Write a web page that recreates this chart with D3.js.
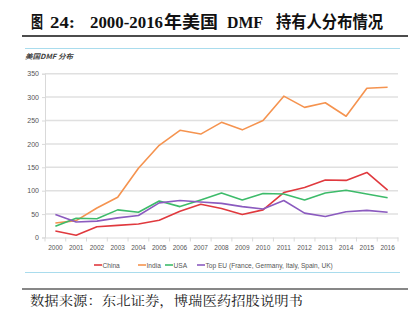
<!DOCTYPE html>
<html><head><meta charset="utf-8">
<script src="https://cdn.jsdelivr.net/npm/d3@7"></script>
<style>body{margin:0;background:#fff}svg{display:block}</style>
</head><body>
<script>
const years = ["2000","2001","2002","2003","2004","2005","2006","2007","2008","2009","2010","2011","2012","2013","2014","2015","2016"];
const china = [14,5,23,26,29,37,56,71,62,49,59,96,107,123,122,139,101];
const india = [31,36,63,86,148,197,229,221,246,230,250,302,278,288,259,319,321];
const usa   = [24,41,40,59,54,78,66,80,95,80,94,93,80,95,101,93,85];
const topEU = [49,33,35,42,47,74,79,76,73,66,61,79,52,45,55,58,54];
const yTicks = [0,50,100,150,200,250,300,350];
const seriesNames = ["China","India","USA","Top EU (France, Germany, Italy, Spain, UK)"];
const colors = ["#e0393e","#f5934f","#3dbb6a","#8b5bbf"];
const seriesData = [china, india, usa, topEU];

const W=419,H=326;
const svg=d3.select("body").append("svg").attr("width",W).attr("height",H);
const cjk="'Noto Sans CJK SC','Noto Sans',sans-serif";

// title segments
const titleParts=[
  {t:"图",x:31,w:12},
  {t:"24:",x:50,w:25},
  {t:"2000-2016",x:90,w:73},
  {t:"年美国",x:164,w:54},
  {t:"DMF",x:227,w:36},
  {t:"持有人分布情况",x:276,w:107}
];
svg.append("g").selectAll("text").data(titleParts).join("text")
  .attr("x",d=>d.x).attr("y",27.5)
  .attr("font-family","'Liberation Serif','Noto Sans CJK SC',serif")
  .attr("font-weight","bold").attr("font-size",16.5).attr("fill","#111")
  .attr("textLength",d=>d.w).attr("lengthAdjust","spacingAndGlyphs")
  .text(d=>d.t);
svg.append("line").attr("x1",22).attr("x2",408).attr("y1",36).attr("y2",36).attr("stroke","#111").attr("stroke-width",1.6);
svg.append("line").attr("x1",25).attr("x2",400).attr("y1",48.5).attr("y2",48.5).attr("stroke","#a9dced").attr("stroke-width",1);
svg.append("text").attr("x",25).attr("y",59).attr("font-family",cjk).attr("font-style","italic").attr("font-weight","bold")
  .attr("font-size",7).attr("fill","#444").attr("textLength",48).attr("lengthAdjust","spacingAndGlyphs").text("美国DMF 分布");

const x=d3.scaleBand().domain(years).range([45,398]);
const y=d3.scaleLinear().domain([0,350]).range([237.5,73.7]);

// gridlines
svg.append("g").selectAll("line").data(yTicks.filter(d=>d>0)).join("line")
  .attr("x1",45).attr("x2",398).attr("y1",d=>y(d)).attr("y2",d=>y(d))
  .attr("stroke","#e0e0e0").attr("stroke-width",1.5);

const yAxis=svg.append("g").attr("transform","translate(45,0)")
  .call(d3.axisLeft(y).tickValues(yTicks).tickSize(3).tickPadding(3));
yAxis.select(".domain").attr("stroke","#d9d9d9");
yAxis.selectAll(".tick line").attr("stroke","#d9d9d9");
yAxis.selectAll("text").attr("font-family","'Liberation Sans',sans-serif").attr("font-size",7).attr("fill","#555");

const xAxis=svg.append("g").attr("transform","translate(0,237.5)")
  .call(d3.axisBottom(x).tickSize(0).tickPadding(8));
xAxis.select(".domain").attr("stroke","#d9d9d9");
xAxis.selectAll("text").attr("font-family","'Liberation Sans',sans-serif").attr("font-size",6.5).attr("fill","#555");
svg.append("g").selectAll("line").data(years.concat(["end"])).join("line")
  .attr("x1",(d,i)=>45+i*x.step()).attr("x2",(d,i)=>45+i*x.step())
  .attr("y1",237.5).attr("y2",241.5).attr("stroke","#d9d9d9");

const line=d3.line().x((d,i)=>x(years[i])+x.bandwidth()/2).y(d=>y(d));
seriesData.forEach((s,k)=>{
  svg.append("path").datum(s).attr("d",line).attr("fill","none")
    .attr("stroke",colors[k]).attr("stroke-width",1.6).attr("stroke-linejoin","round");
});

// legend
const legX=[94,138,165,197];
const lg=svg.append("g");
seriesNames.forEach((n,k)=>{
  lg.append("line").attr("x1",legX[k]).attr("x2",legX[k]+8).attr("y1",265).attr("y2",265)
    .attr("stroke",colors[k]).attr("stroke-width",1.6);
  lg.append("text").attr("x",legX[k]+8.5).attr("y",267.5).attr("font-family","'Liberation Sans',sans-serif")
    .attr("font-size",6.6).attr("fill","#555").text(n);
});
svg.append("line").attr("x1",25).attr("x2",400).attr("y1",272.5).attr("y2",272.5).attr("stroke","#a9dced").attr("stroke-width",1);
svg.append("line").attr("x1",22).attr("x2",408).attr("y1",289).attr("y2",289).attr("stroke","#111").attr("stroke-width",1.2);
svg.append("text").attr("x",30).attr("y",305).attr("font-family","'Noto Serif CJK SC','Noto Sans CJK SC',serif")
  .attr("font-size",13).attr("fill","#222").attr("textLength",273).attr("lengthAdjust","spacingAndGlyphs")
  .text("数据来源：东北证券，博瑞医药招股说明书");
</script>
</body></html>
